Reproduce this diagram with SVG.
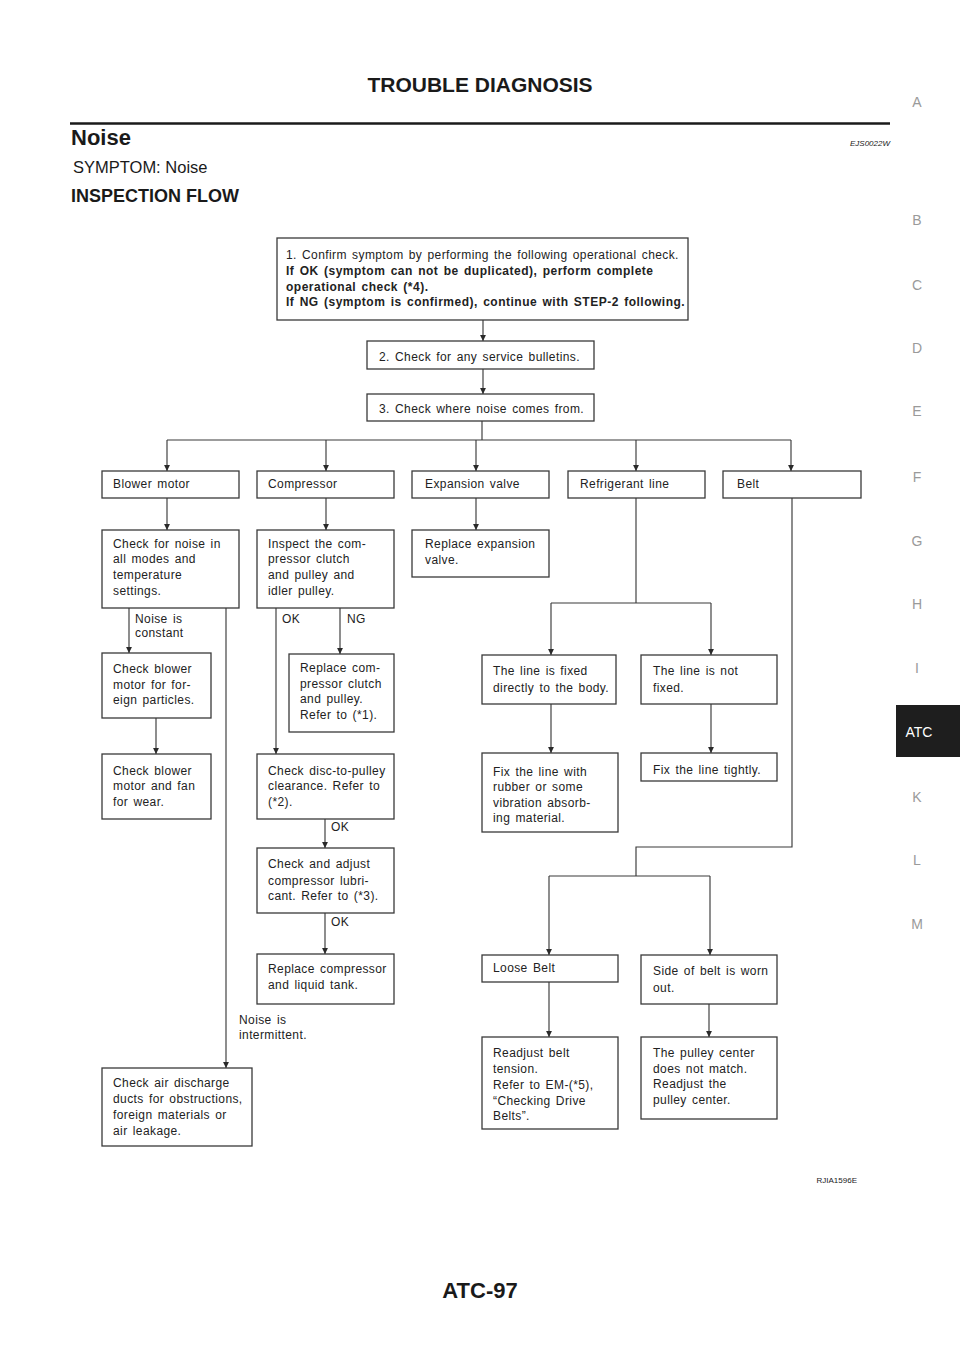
<svg xmlns="http://www.w3.org/2000/svg" width="960" height="1358" viewBox="0 0 960 1358">
<defs>
<marker id="ah" markerUnits="userSpaceOnUse" markerWidth="8" markerHeight="8" refX="6.5" refY="3.5" orient="auto">
<path d="M0,0.3 L6.5,3.5 L0,6.7 z" fill="#2a2a2a"/>
</marker>
<style>
.box{fill:#fff;stroke:#3a3a3a;stroke-width:1.3}
.t{font-family:"Liberation Sans",Arial,Helvetica,sans-serif;font-size:12px;fill:#222;letter-spacing:0.4px;word-spacing:1.5px}
.b{font-weight:bold;letter-spacing:0.5px}
.c{fill:none;stroke:#3a3a3a;stroke-width:1.15}
.a{fill:none;stroke:#3a3a3a;stroke-width:1.15;marker-end:url(#ah)}
.h{font-family:"Liberation Sans",Arial,Helvetica,sans-serif;fill:#1a1a1a}
.side{font-family:"Liberation Sans",Arial,Helvetica,sans-serif;font-size:14px;fill:#9a9a9a;text-anchor:middle}
</style>
</defs>
<rect width="960" height="1358" fill="#fff"/>

<g id="header">
<text class="h" x="480" y="92" font-size="21" font-weight="bold" text-anchor="middle">TROUBLE DIAGNOSIS</text>
<line x1="70" y1="123.5" x2="890" y2="123.5" stroke="#1a1a1a" stroke-width="2.5"/>
<text class="h" x="71" y="145" font-size="22" font-weight="bold">Noise</text>
<text class="h" x="890" y="146" font-size="8" font-style="italic" text-anchor="end" fill="#333">EJS0022W</text>
<text class="h" x="73" y="173" font-size="16.5" fill="#333">SYMPTOM: Noise</text>
<text class="h" x="71" y="202" font-size="18" font-weight="bold">INSPECTION FLOW</text>
</g>

<g id="sidebar">
<text class="side" x="917" y="107">A</text>
<text class="side" x="917" y="225">B</text>
<text class="side" x="917" y="290">C</text>
<text class="side" x="917" y="353">D</text>
<text class="side" x="917" y="416">E</text>
<text class="side" x="917" y="482">F</text>
<text class="side" x="917" y="546">G</text>
<text class="side" x="917" y="609">H</text>
<text class="side" x="917" y="673">I</text>
<rect x="896" y="705" width="64" height="52" fill="#1e1e1e"/>
<text x="919" y="737" font-family="Liberation Sans,Arial,sans-serif" font-size="14" fill="#fff" text-anchor="middle">ATC</text>
<text class="side" x="917" y="802">K</text>
<text class="side" x="917" y="865">L</text>
<text class="side" x="917" y="929">M</text>
</g>

<g id="connectors">
<line class="a" x1="483" y1="320" x2="483" y2="341"/>
<line class="a" x1="483" y1="369" x2="483" y2="394"/>
<polyline class="c" points="482,421 482,440"/>
<line class="c" x1="167" y1="440" x2="791" y2="440"/>
<line class="a" x1="167" y1="440" x2="167" y2="471"/>
<line class="a" x1="326" y1="440" x2="326" y2="471"/>
<line class="a" x1="476" y1="440" x2="476" y2="471"/>
<line class="a" x1="636" y1="440" x2="636" y2="471"/>
<line class="a" x1="791" y1="440" x2="791" y2="471"/>
<line class="a" x1="167" y1="498" x2="167" y2="530"/>
<line class="a" x1="326" y1="498" x2="326" y2="530"/>
<line class="a" x1="476" y1="498" x2="476" y2="530"/>
<line class="a" x1="129" y1="608" x2="129" y2="653"/>
<line class="a" x1="226" y1="608" x2="226" y2="1068"/>
<line class="a" x1="156" y1="718" x2="156" y2="754"/>
<line class="a" x1="276" y1="608" x2="276" y2="754"/>
<line class="a" x1="340" y1="608" x2="340" y2="654"/>
<line class="a" x1="325" y1="819" x2="325" y2="848"/>
<line class="a" x1="325" y1="913" x2="325" y2="954"/>
<polyline class="c" points="636,498 636,603"/>
<line class="c" x1="551" y1="603" x2="711" y2="603"/>
<line class="a" x1="551" y1="603" x2="551" y2="655"/>
<line class="a" x1="711" y1="603" x2="711" y2="655"/>
<line class="a" x1="551" y1="704" x2="551" y2="753"/>
<line class="a" x1="711" y1="704" x2="711" y2="753"/>
<polyline class="c" points="792,498 792,847 636,847 636,876"/>
<line class="c" x1="549" y1="876" x2="710" y2="876"/>
<line class="a" x1="549" y1="876" x2="549" y2="955"/>
<line class="a" x1="710" y1="876" x2="710" y2="955"/>
<line class="a" x1="549" y1="982" x2="549" y2="1037"/>
<line class="a" x1="709" y1="1004" x2="709" y2="1037"/>
</g>

<g id="labels">
<text class="t" x="135" y="623">Noise is</text>
<text class="t" x="135" y="637">constant</text>
<text class="t" x="282" y="623">OK</text>
<text class="t" x="347" y="623">NG</text>
<text class="t" x="331" y="831">OK</text>
<text class="t" x="331" y="926">OK</text>
<text class="t" x="239" y="1024">Noise is</text>
<text class="t" x="239" y="1039">intermittent.</text>
</g>

<g id="step1">
<rect class="box" x="277" y="238" width="411" height="82"/>
<text class="t" x="286" y="259">1. Confirm symptom by performing the following operational check.</text>
<text class="t b" x="286" y="275">If OK (symptom can not be duplicated), perform complete</text>
<text class="t b" x="286" y="291">operational check (*4).</text>
<text class="t b" x="286" y="306">If NG (symptom is confirmed), continue with STEP-2 following.</text>
</g>
<g id="step2">
<rect class="box" x="367" y="341" width="227" height="28"/>
<text class="t" x="379" y="361">2. Check for any service bulletins.</text>
</g>
<g id="step3">
<rect class="box" x="367" y="394" width="227" height="27"/>
<text class="t" x="379" y="413">3. Check where noise comes from.</text>
</g>

<g id="blower-motor">
<rect class="box" x="102" y="471" width="137" height="27"/>
<text class="t" x="113" y="488">Blower motor</text>
</g>
<g id="compressor">
<rect class="box" x="257" y="471" width="137" height="27"/>
<text class="t" x="268" y="488">Compressor</text>
</g>
<g id="expansion-valve">
<rect class="box" x="412" y="471" width="137" height="27"/>
<text class="t" x="425" y="488">Expansion valve</text>
</g>
<g id="refrigerant-line">
<rect class="box" x="568" y="471" width="137" height="27"/>
<text class="t" x="580" y="488">Refrigerant line</text>
</g>
<g id="belt">
<rect class="box" x="723" y="471" width="138" height="27"/>
<text class="t" x="737" y="488">Belt</text>
</g>

<g id="check-noise">
<rect class="box" x="102" y="530" width="137" height="78"/>
<text class="t" x="113" y="548">Check for noise in</text>
<text class="t" x="113" y="563">all modes and</text>
<text class="t" x="113" y="579">temperature</text>
<text class="t" x="113" y="595">settings.</text>
</g>
<g id="inspect-compressor">
<rect class="box" x="257" y="530" width="137" height="78"/>
<text class="t" x="268" y="548">Inspect the com-</text>
<text class="t" x="268" y="563">pressor clutch</text>
<text class="t" x="268" y="579">and pulley and</text>
<text class="t" x="268" y="595">idler pulley.</text>
</g>
<g id="replace-expansion">
<rect class="box" x="412" y="530" width="137" height="47"/>
<text class="t" x="425" y="548">Replace expansion</text>
<text class="t" x="425" y="564">valve.</text>
</g>

<g id="check-blower-particles">
<rect class="box" x="102" y="653" width="109" height="65"/>
<text class="t" x="113" y="673">Check blower</text>
<text class="t" x="113" y="689">motor for for-</text>
<text class="t" x="113" y="704">eign particles.</text>
</g>
<g id="check-blower-wear">
<rect class="box" x="102" y="754" width="109" height="65"/>
<text class="t" x="113" y="775">Check blower</text>
<text class="t" x="113" y="790">motor and fan</text>
<text class="t" x="113" y="806">for wear.</text>
</g>
<g id="replace-clutch">
<rect class="box" x="289" y="654" width="105" height="78"/>
<text class="t" x="300" y="672">Replace com-</text>
<text class="t" x="300" y="688">pressor clutch</text>
<text class="t" x="300" y="703">and pulley.</text>
<text class="t" x="300" y="719">Refer to (*1).</text>
</g>
<g id="check-disc">
<rect class="box" x="257" y="754" width="137" height="65"/>
<text class="t" x="268" y="775">Check disc-to-pulley</text>
<text class="t" x="268" y="790">clearance. Refer to</text>
<text class="t" x="268" y="806">(*2).</text>
</g>
<g id="check-lubricant">
<rect class="box" x="257" y="848" width="137" height="65"/>
<text class="t" x="268" y="868">Check and adjust</text>
<text class="t" x="268" y="885">compressor lubri-</text>
<text class="t" x="268" y="900">cant. Refer to (*3).</text>
</g>
<g id="replace-compressor">
<rect class="box" x="257" y="954" width="137" height="50"/>
<text class="t" x="268" y="973">Replace compressor</text>
<text class="t" x="268" y="989">and liquid tank.</text>
</g>
<g id="check-air-ducts">
<rect class="box" x="102" y="1068" width="150" height="78"/>
<text class="t" x="113" y="1087">Check air discharge</text>
<text class="t" x="113" y="1103">ducts for obstructions,</text>
<text class="t" x="113" y="1119">foreign materials or</text>
<text class="t" x="113" y="1135">air leakage.</text>
</g>

<g id="line-fixed">
<rect class="box" x="482" y="655" width="134" height="49"/>
<text class="t" x="493" y="675">The line is fixed</text>
<text class="t" x="493" y="692">directly to the body.</text>
</g>
<g id="line-not-fixed">
<rect class="box" x="641" y="655" width="136" height="49"/>
<text class="t" x="653" y="675">The line is not</text>
<text class="t" x="653" y="692">fixed.</text>
</g>
<g id="fix-rubber">
<rect class="box" x="482" y="753" width="136" height="79"/>
<text class="t" x="493" y="776">Fix the line with</text>
<text class="t" x="493" y="791">rubber or some</text>
<text class="t" x="493" y="807">vibration absorb-</text>
<text class="t" x="493" y="822">ing material.</text>
</g>
<g id="fix-tightly">
<rect class="box" x="641" y="753" width="136" height="28"/>
<text class="t" x="653" y="774">Fix the line tightly.</text>
</g>
<g id="loose-belt">
<rect class="box" x="482" y="955" width="136" height="27"/>
<text class="t" x="493" y="972">Loose Belt</text>
</g>
<g id="belt-worn">
<rect class="box" x="641" y="955" width="136" height="49"/>
<text class="t" x="653" y="975">Side of belt is worn</text>
<text class="t" x="653" y="992">out.</text>
</g>
<g id="readjust-tension">
<rect class="box" x="482" y="1037" width="136" height="92"/>
<text class="t" x="493" y="1057">Readjust belt</text>
<text class="t" x="493" y="1073">tension.</text>
<text class="t" x="493" y="1089">Refer to EM-(*5),</text>
<text class="t" x="493" y="1105">“Checking Drive</text>
<text class="t" x="493" y="1120">Belts”.</text>
</g>
<g id="pulley-center">
<rect class="box" x="641" y="1037" width="136" height="82"/>
<text class="t" x="653" y="1057">The pulley center</text>
<text class="t" x="653" y="1073">does not match.</text>
<text class="t" x="653" y="1088">Readjust the</text>
<text class="t" x="653" y="1104">pulley center.</text>
</g>

<g id="footer">
<text class="h" x="857" y="1183" font-size="8" text-anchor="end" fill="#444">RJIA1596E</text>
<text class="h" x="480" y="1298" font-size="22" font-weight="bold" text-anchor="middle">ATC-97</text>
</g>
</svg>
